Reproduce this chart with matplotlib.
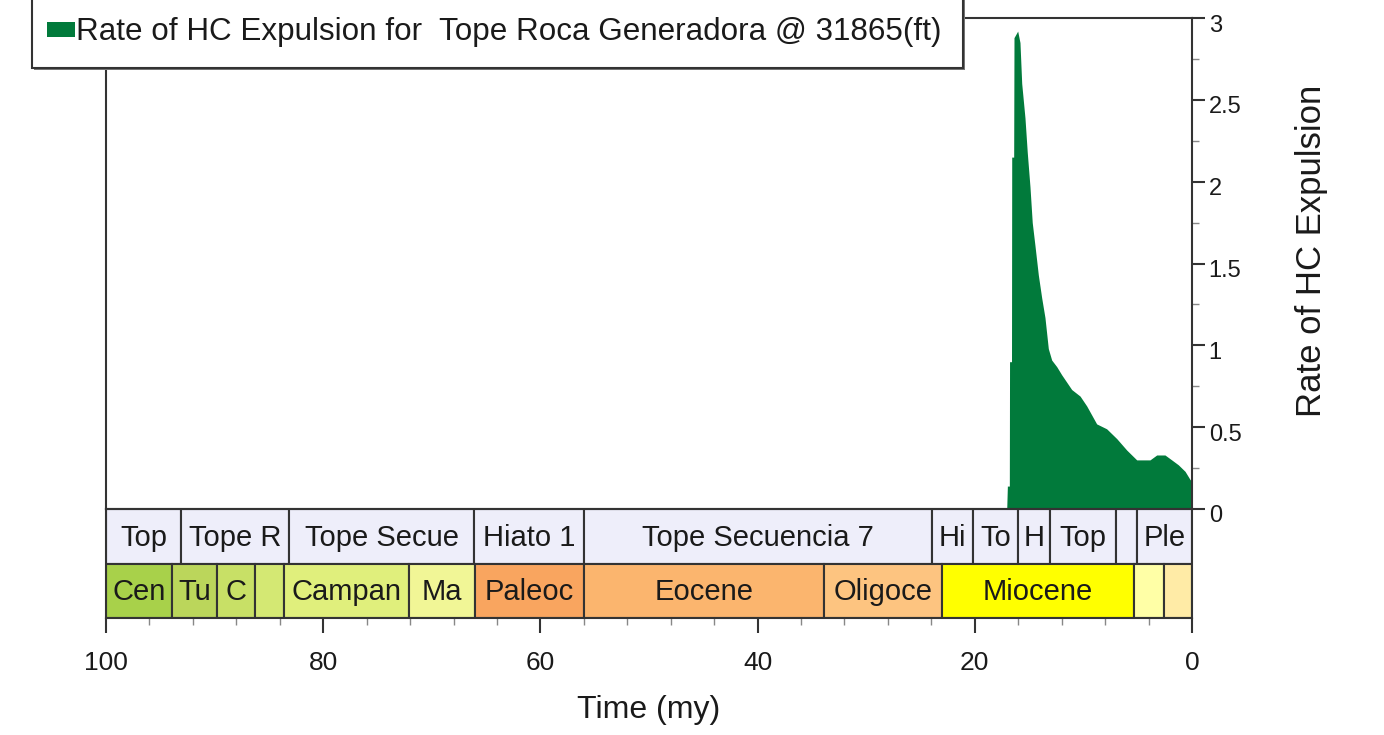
import numpy as np
import matplotlib
matplotlib.use("Agg")
import matplotlib.pyplot as plt
from matplotlib.patches import Rectangle
from matplotlib.ticker import MultipleLocator, FuncFormatter
from matplotlib.transforms import ScaledTranslation

plt.rcParams["font.family"] = ["Liberation Sans", "DejaVu Sans"]

# Rate of HC expulsion (time in my, rate)
time_my = [17.06, 17.0, 16.82, 16.8, 16.62, 16.6, 16.42, 16.39, 16.05, 15.84,
           15.68, 15.38, 15.17, 14.92, 14.71, 14.46, 14.15, 13.84, 13.54, 13.23,
           12.92, 12.46, 12.0, 11.08, 10.31, 9.70, 8.78, 7.86, 6.93, 6.01,
           5.09, 3.87, 3.25, 2.49, 1.87, 1.26, 0.64, 0.18, 0.0]
rate = [0.0, 0.14, 0.14, 0.90, 0.90, 2.15, 2.15, 2.88, 2.92, 2.85,
        2.60, 2.39, 2.18, 1.97, 1.75, 1.61, 1.43, 1.29, 1.17, 0.98,
        0.91, 0.87, 0.82, 0.73, 0.69, 0.63, 0.52, 0.49, 0.43, 0.36,
        0.30, 0.30, 0.33, 0.33, 0.30, 0.27, 0.23, 0.18, 0.17]

# Formation band (top row)
form_edges = [100, 93.1, 83.15, 66.1, 56.0, 23.9, 20.2, 16.0, 13.1, 7.0, 5.1, 0]
form_labels = ["Top", "Tope R", "Tope Secue", "Hiato 1", "Tope Secuencia 7",
               "Hi", "To", "H", "Top", "", "Ple"]

# Epoch band (bottom row)
epoch_edges = [100, 93.9, 89.8, 86.3, 83.6, 72.1, 66.0, 56.0, 33.9, 23.0, 5.33, 2.58, 0]
epoch_labels = ["Cen", "Tu", "C", "", "Campan", "Ma", "Paleoc", "Eocene",
                "Oligoce", "Miocene", "", ""]
epoch_colors = ["#A8D14A", "#BBD65B", "#C8E066", "#D4E873", "#E0EF7C", "#F1F696",
                "#F9A55F", "#FBB56E", "#FDC480", "#FFFF00", "#FFFFA6", "#FFEBA6"]

W, H = 1384, 735
fig = plt.figure(figsize=(W / 100, H / 100), dpi=100)

def fx(px):
    return px / W

def fy(py):
    return 1 - py / H

x_left, x_right = 106, 1192
y_top, y_base, y_band = 18, 509, 618
edge = "#333333"
txt = "#1A1A1A"

# main chart
ax = fig.add_axes([fx(x_left), fy(y_base), fx(x_right - x_left), (y_base - y_top) / H])
ax.fill_between(time_my, rate, 0, color="#017A3B", lw=0)
ax.set_xlim(100, 0)
ax.set_ylim(0, 3)
ax.set_xticks([])
ax.yaxis.tick_right()
ax.yaxis.set_major_locator(MultipleLocator(0.5))
ax.yaxis.set_minor_locator(MultipleLocator(0.25))
ax.yaxis.set_major_formatter(FuncFormatter(lambda v, p: "{:g}".format(v)))
ax.tick_params(axis="y", which="major", length=9, width=1.5, color=edge,
               labelsize=17, pad=3, labelcolor=txt)
ax.tick_params(axis="y", which="minor", length=5, width=1, color="#888888")
# labels sit a little below their ticks in the original
shift = ScaledTranslation(0, -5 / 100, fig.dpi_scale_trans)
for lab in ax.get_yticklabels():
    lab.set_transform(lab.get_transform() + shift)
for s in ax.spines.values():
    s.set_color(edge)
    s.set_linewidth(1.5)
ax.set_ylabel("Rate of HC Expulsion", fontsize=25, color=txt)
ax.yaxis.set_label_position("right")
ax.yaxis.set_label_coords((1295 - x_left) / (x_right - x_left), 0.525)

# stratigraphic bands
bx = fig.add_axes([fx(x_left), fy(y_band), fx(x_right - x_left), (y_band - y_base) / H])
bx.set_xlim(100, 0)
bx.set_ylim(0, 2)
for i, lab in enumerate(form_labels):
    a, b = form_edges[i], form_edges[i + 1]
    bx.barh(1.5, a - b, left=b, height=1, color="#EEEEFA", edgecolor=edge, lw=1.5)
    bx.text((a + b) / 2, 1.47, lab, ha="center", va="center", fontsize=21, color=txt)
for i, lab in enumerate(epoch_labels):
    a, b = epoch_edges[i], epoch_edges[i + 1]
    bx.barh(0.5, a - b, left=b, height=1, color=epoch_colors[i], edgecolor=edge, lw=1.5)
    bx.text((a + b) / 2, 0.47, lab, ha="center", va="center", fontsize=21, color=txt)
bx.set_yticks([])
bx.xaxis.set_major_locator(MultipleLocator(20))
bx.xaxis.set_minor_locator(MultipleLocator(4))
bx.tick_params(axis="x", which="major", length=11, width=1.5, color=edge,
               labelsize=19, pad=13, labelcolor=txt)
bx.tick_params(axis="x", which="minor", length=5, width=1, color="#888888")
for s in bx.spines.values():
    s.set_color(edge)
    s.set_linewidth(1.5)
bx.set_xlabel("Time (my)", fontsize=23, color=txt, labelpad=14)

# legend box
fig.add_artist(Rectangle((fx(34), fy(70)), fx(963 - 32), 0.2, transform=fig.transFigure,
                         facecolor="#777777", edgecolor="none", zorder=4))
fig.add_artist(Rectangle((fx(32), fy(68)), fx(963 - 32), 0.2, transform=fig.transFigure,
                         facecolor="white", edgecolor=edge, lw=1.5, zorder=5))
fig.add_artist(Rectangle((fx(47), fy(37)), fx(28), 15 / H, transform=fig.transFigure,
                         facecolor="#017A3B", edgecolor="none", zorder=6))
fig.text(fx(76), fy(32), "Rate of HC Expulsion for  Tope Roca Generadora @ 31865(ft)",
         fontsize=22.6, color=txt, va="center", ha="left", zorder=6)

fig.savefig("out.png", dpi=100)
